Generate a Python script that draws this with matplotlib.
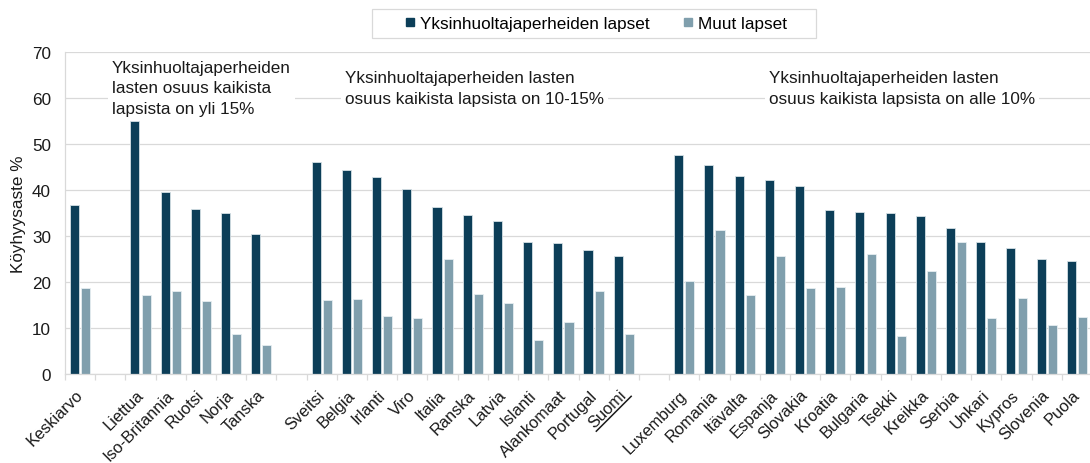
import matplotlib
matplotlib.use("Agg")
import matplotlib.pyplot as plt
from matplotlib.lines import Line2D
from matplotlib.patches import Rectangle
import numpy as np

plt.rcParams['font.family'] = ['Liberation Sans', 'DejaVu Sans']

# ---- data ----
group_avg = ["Keskiarvo"]
group_high = ["Liettua", "Iso-Britannia", "Ruotsi", "Norja", "Tanska"]
group_mid = ["Sveitsi", "Belgia", "Irlanti", "Viro", "Italia", "Ranska", "Latvia",
             "Islanti", "Alankomaat", "Portugal", "Suomi"]
group_low = ["Luxemburg", "Romania", "Itävalta", "Espanja", "Slovakia", "Kroatia",
             "Bulgaria", "Tsekki", "Kreikka", "Serbia", "Unkari", "Kypros",
             "Slovenia", "Puola"]

single_avg = [36.7]
other_avg = [18.8]
single_high = [55.1, 39.5, 35.8, 35.1, 30.4]
other_high = [17.2, 18.0, 15.8, 8.8, 6.4]
single_mid = [46.1, 44.4, 42.8, 40.3, 36.4, 34.5, 33.3, 28.8, 28.5, 27.0, 25.6]
other_mid = [16.0, 16.2, 12.6, 12.2, 25.1, 17.4, 15.4, 7.5, 11.4, 18.0, 8.8]
single_low = [47.7, 45.5, 43.0, 42.2, 40.9, 35.6, 35.2, 35.1, 34.4, 31.8, 28.7,
              27.4, 25.1, 24.6]
other_low = [20.2, 31.4, 17.2, 25.6, 18.8, 19.0, 26.1, 8.3, 22.3, 28.7, 12.2,
             16.6, 10.6, 12.5]

series_names = ["Yksinhuoltajaperheiden lapset", "Muut lapset"]
group_notes = [
    "Yksinhuoltajaperheiden\nlasten osuus kaikista\nlapsista on yli 15%",
    "Yksinhuoltajaperheiden lasten\nosuus kaikista lapsista on 10-15%",
    "Yksinhuoltajaperheiden lasten\nosuus kaikista lapsista on alle 10%",
]
highlight = "Suomi"
y_label = "Köyhyysaste %"

# ---- build positions (one empty slot between groups) ----
groups = [(group_avg, single_avg, other_avg),
          (group_high, single_high, other_high),
          (group_mid, single_mid, other_mid),
          (group_low, single_low, other_low)]
labels, pos, s_vals, o_vals, group_start = [], [], [], [], []
p = 0
for names, sv, ov in groups:
    group_start.append(p)
    for n, a, b in zip(names, sv, ov):
        labels.append(n); pos.append(p); s_vals.append(a); o_vals.append(b)
        p += 1
    p += 1
n_slots = p - 1
pos = np.array(pos)

dark = "#0c3e58"
light = "#809fad"
grid_c = "#d9d9d9"
txt_c = "#1a1a1a"
FS = 12.3
FS_X = 11.8

W, H = 1090, 464
fig = plt.figure(figsize=(W / 100, H / 100), dpi=100)
ax = fig.add_axes([65 / W, 1 - 375 / H, 1027 / W, 322 / H])

bw = 0.3
off = 0.185
ax.bar(pos - off, s_vals, width=bw, color=dark, edgecolor="#d5e0e5", linewidth=0.6, zorder=2)
ax.bar(pos + off, o_vals, width=bw, color=light, edgecolor="#e6eef1", linewidth=0.6, zorder=2)

ax.set_xlim(-0.5, n_slots - 0.5)
ax.set_ylim(0, 70)
ax.set_yticks(np.arange(0, 71, 10))
ax.yaxis.grid(True, color=grid_c, linewidth=0.9)
ax.set_axisbelow(True)

for sp in ["top", "right"]:
    ax.spines[sp].set_visible(False)
for sp in ["left", "bottom"]:
    ax.spines[sp].set_color(grid_c)
    ax.spines[sp].set_linewidth(0.9)

ax.tick_params(axis="y", length=0, pad=10, labelsize=FS, labelcolor=txt_c)
label_shift = -0.16  # slot units, nudges rotated labels left
ax.set_xticks(pos + label_shift)
ax.set_xticklabels(labels, rotation=45, ha="right", va="top", rotation_mode="anchor",
                   fontsize=FS_X, color=txt_c)
ax.tick_params(axis="x", which="major", length=0, pad=9.3)
ax.set_xticks(np.arange(-0.5, n_slots, 1.0), minor=True)
ax.tick_params(axis="x", which="minor", length=4, color=grid_c, width=0.9)

ax.set_ylabel(y_label, fontsize=FS, color=txt_c, labelpad=4)

# group notes
note_x = [group_start[1] - 0.94, group_start[2] + 0.77, group_start[3] + 2.81]
for x, t in zip(note_x, group_notes):
    ax.text(x, 62.2, t, ha="left", va="center", fontsize=FS, color=txt_c,
            linespacing=1.45, zorder=1.5,
            bbox=dict(boxstyle="square,pad=0.25", facecolor="white", edgecolor="none"))

# legend
handles = [Line2D([], [], linestyle="none", marker="s", markersize=5.5,
                  markerfacecolor=c, markeredgecolor=c) for c in (dark, light)]
fig.legend(handles, series_names, loc="center", bbox_to_anchor=(596.5 / W, 1 - 24.5 / H),
           ncol=2, frameon=False, fontsize=FS, handlelength=0.5, handletextpad=0.35,
           columnspacing=2.0)
fig.add_artist(Rectangle((372 / W, 1 - 39 / H), 444 / W, 29 / H, transform=fig.transFigure,
                         fill=False, edgecolor=grid_c, linewidth=0.9))

# underline highlighted label
fig.canvas.draw()
r = fig.canvas.get_renderer()
for lab in ax.get_xticklabels():
    if lab.get_text() == highlight:
        fp = lab.get_fontproperties()
        tw, th, td = r.get_text_width_height_descent(highlight, fp, ismath=False)
        _, lph, lpd = r.get_text_width_height_descent("lp", fp, ismath=False)
        ax_x, ax_y = lab.get_transform().transform(lab.get_position())
        em = FS_X * fig.dpi / 72
        ly = -(lph - lpd) - 0.2 * em
        c = s = np.sqrt(0.5)
        pts = []
        for lx in (-tw - 0.05 * em, 0.12 * em):
            pts.append((ax_x + lx * c - ly * s, ax_y + lx * s + ly * c))
        xs = np.array([q[0] for q in pts]) / W
        ys = np.array([q[1] for q in pts]) / H
        fig.add_artist(Line2D(xs, ys, transform=fig.transFigure,
                              color=txt_c, linewidth=1.1))

fig.savefig("out.png", dpi=100)
